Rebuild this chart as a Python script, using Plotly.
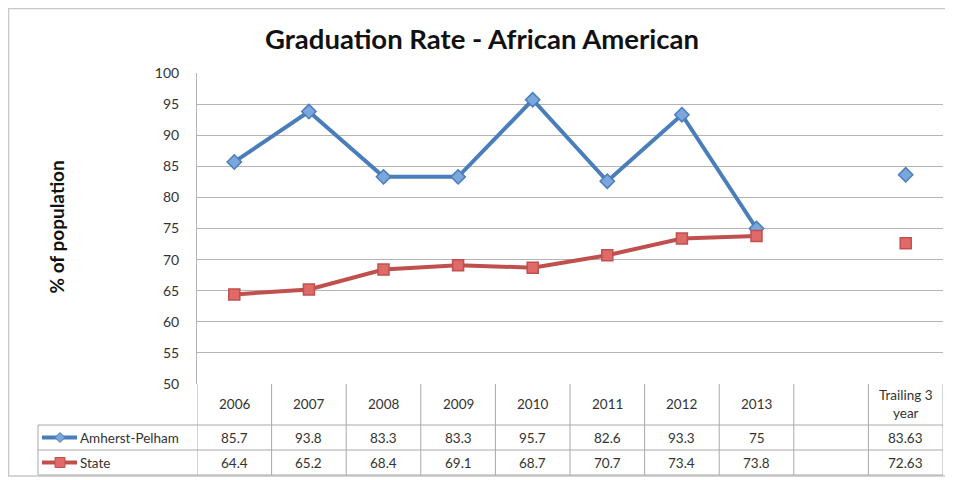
import plotly.graph_objects as go

categories = ["2006", "2007", "2008", "2009", "2010", "2011", "2012", "2013", "", "Trailing 3<br>year"]
amherst = [85.7, 93.8, 83.3, 83.3, 95.7, 82.6, 93.3, 75, None, 83.63]
state = [64.4, 65.2, 68.4, 69.1, 68.7, 70.7, 73.4, 73.8, None, 72.63]
series_names = ["Amherst-Pelham", "State"]
y_ticks = [50, 55, 60, 65, 70, 75, 80, 85, 90, 95, 100]

# page body has an 8px margin; work in screen pixels and shift
OFF = 8
W, H = 953 - OFF, 480 - OFF
L, R, T, B = 197 - OFF, 943 - OFF, 73 - OFF, 384 - OFF
pw, ph = R - L, B - T

def px_x(x):
    return (x - OFF - L) / pw

def px_y(y):
    return (B - (y - OFF)) / ph

FONT = "Lato"
blue, blue_fill = "#4a7ebb", "#7ba7dd"
red, red_fill = "#c0504d", "#e0696a"
grid = "#b4b4b4"
tcol = "#a8a8a8"

xs = list(range(len(categories)))
fig = go.Figure()
fig.add_trace(go.Scatter(x=xs, y=amherst, mode="lines+markers", name=series_names[0],
                         line=dict(color=blue, width=4),
                         marker=dict(symbol="diamond", size=11, color=blue_fill,
                                     line=dict(color=blue, width=1.5)),
                         connectgaps=False, showlegend=False))
fig.add_trace(go.Scatter(x=xs, y=state, mode="lines+markers", name=series_names[1],
                         line=dict(color=red, width=4),
                         marker=dict(symbol="square", size=11, color=red_fill,
                                     line=dict(color=red, width=1.5)),
                         connectgaps=False, showlegend=False))

shapes = []
annotations = []

# outer chart border (right and bottom parts visible)
shapes.append(dict(type="rect", xref="paper", yref="paper",
                   x0=px_x(8.5), x1=px_x(950), y0=px_y(476), y1=px_y(8.5),
                   line=dict(color="#c8c8c8", width=1.5), layer="below"))

# table geometry (screen pixel rows)
hdr_top, hdr_bot, r1_bot, r2_bot = 384, 425, 450, 475
lbl_left = 38
n = len(categories)
for k in range(n + 1):
    xv = k - 0.5
    shapes.append(dict(type="line", xref="x", yref="paper", x0=xv, x1=xv,
                       y0=px_y(hdr_top), y1=px_y(r2_bot), line=dict(color=tcol, width=1)))
shapes.append(dict(type="line", xref="paper", yref="paper", x0=px_x(lbl_left), x1=px_x(lbl_left),
                   y0=px_y(hdr_bot), y1=px_y(r2_bot), line=dict(color=tcol, width=1)))
for yy in [hdr_bot, r1_bot, r2_bot]:
    shapes.append(dict(type="line", xref="paper", yref="paper", x0=px_x(lbl_left), x1=1,
                       y0=px_y(yy), y1=px_y(yy), line=dict(color=tcol, width=1)))

tfont = dict(family=FONT, size=13.5, color="#333333")
for i, c in enumerate(categories):
    annotations.append(dict(x=i, y=px_y((hdr_top + hdr_bot) / 2), xref="x", yref="paper",
                            text=c, showarrow=False, font=tfont, yanchor="middle"))
rows = [(amherst, (hdr_bot + r1_bot) / 2), (state, (r1_bot + r2_bot) / 2)]
for vals, yc in rows:
    for i, v in enumerate(vals):
        if v is None:
            continue
        annotations.append(dict(x=i, y=px_y(yc), xref="x", yref="paper",
                                text=f"{v:g}", showarrow=False, font=tfont, yanchor="middle"))

# legend keys in table
for (name, col, fill, sym), (_, yc) in zip(
        [(series_names[0], blue, blue_fill, "d"), (series_names[1], red, red_fill, "s")], rows):
    shapes.append(dict(type="line", xref="paper", yref="paper", x0=px_x(42), x1=px_x(77),
                       y0=px_y(yc), y1=px_y(yc), line=dict(color=col, width=4)))
    cx = 60
    if sym == "d":
        path = (f"M {px_x(cx-5)} {px_y(yc)} L {px_x(cx)} {px_y(yc-5)} "
                f"L {px_x(cx+5)} {px_y(yc)} L {px_x(cx)} {px_y(yc+5)} Z")
        shapes.append(dict(type="path", xref="paper", yref="paper", path=path,
                           fillcolor=fill, line=dict(color=col, width=1)))
    else:
        shapes.append(dict(type="rect", xref="paper", yref="paper",
                           x0=px_x(cx-5), x1=px_x(cx+5), y0=px_y(yc+5), y1=px_y(yc-5),
                           fillcolor=fill, line=dict(color=col, width=1)))
    annotations.append(dict(x=px_x(78), y=px_y(yc), xref="paper", yref="paper", text=name,
                            showarrow=False, xanchor="left", yanchor="middle", font=tfont))

# y-axis title
annotations.append(dict(x=px_x(42), y=px_y(227), xref="paper", yref="paper",
                        text="<b>% of population</b>", textangle=-90, showarrow=False,
                        font=dict(family=FONT, size=19, color="#111111")))

# chart title
annotations.append(dict(x=px_x(482), y=px_y(38), xref="paper", yref="paper",
                        text="<b>Graduation Rate - African American</b>", showarrow=False,
                        xanchor="center", yanchor="middle",
                        font=dict(family=FONT, size=27.5, color="#111111")))

fig.update_layout(
    width=W, height=H,
    margin=dict(l=L, r=W - R, t=T, b=H - B),
    paper_bgcolor="white", plot_bgcolor="white",
    shapes=shapes, annotations=annotations,
    xaxis=dict(range=[-0.5, n - 0.5], showticklabels=False, showgrid=False,
               zeroline=False, showline=False, fixedrange=True),
    yaxis=dict(range=[50, 100], tickvals=y_ticks, showgrid=True, gridcolor=grid, gridwidth=1,
               zeroline=False, showline=True, linecolor=grid, linewidth=1,
               ticks="", ticklabelstandoff=14,
               tickfont=dict(family=FONT, size=14, color="#333333")),
)

fig.write_html("out.html")
